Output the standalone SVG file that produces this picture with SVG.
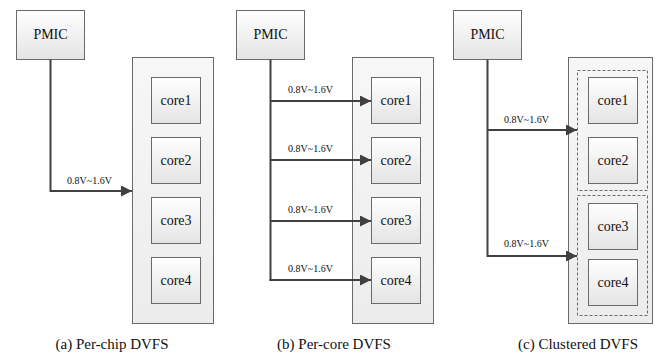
<svg xmlns="http://www.w3.org/2000/svg" width="657" height="354" viewBox="0 0 657 354" font-family="'Liberation Serif', 'DejaVu Serif', 'Times New Roman', serif">
  <defs>
    <linearGradient id="boxFill" x1="0" y1="0" x2="0" y2="1">
      <stop offset="0" stop-color="#ffffff"/>
      <stop offset="1" stop-color="#e4e4e4"/>
    </linearGradient>
    <linearGradient id="chipFill" x1="0" y1="0" x2="0" y2="1">
      <stop offset="0" stop-color="#f7f7f7"/>
      <stop offset="1" stop-color="#ececec"/>
    </linearGradient>
    <marker id="arrow" viewBox="0 0 10 10" refX="10" refY="5" markerWidth="5.5" markerHeight="5.5" markerUnits="strokeWidth" orient="auto">
      <path d="M0,0 L10,5 L0,10 Z" fill="#404040"/>
    </marker>
  </defs>
  <style>
    .box { fill: url(#boxFill); stroke: #6a6a6a; stroke-width: 1; }
    .chip { fill: url(#chipFill); stroke: #6a6a6a; stroke-width: 1; }
    .cluster { fill: none; stroke: #6a6a6a; stroke-width: 1; stroke-dasharray: 3 2; }
    .wire { fill: none; stroke: #404040; stroke-width: 2; }
    .arr { marker-end: url(#arrow); }
    text { font-family: "Liberation Serif", "DejaVu Serif", "Times New Roman", serif; fill: #111111; }
    .name { font-size: 14px; text-anchor: middle; }
    .volt { font-size: 10px; }
    .cap { font-size: 15px; text-anchor: middle; }
  </style>

  <!-- (a) Per-chip DVFS -->
  <g id="a-pmic"><rect class="box" x="16.5" y="10.5" width="68" height="49"/><text class="name" x="50.5" y="39">PMIC</text></g>
  <g id="a-chip"><rect class="chip" x="132.5" y="57.5" width="81" height="266"/></g>
  <g id="a-core1"><rect class="box" x="151.5" y="77.5" width="49" height="46"/><text class="name" x="176" y="105">core1</text></g>
  <g id="a-core2"><rect class="box" x="151.5" y="137.5" width="49" height="46"/><text class="name" x="176" y="165">core2</text></g>
  <g id="a-core3"><rect class="box" x="151.5" y="197.5" width="49" height="46"/><text class="name" x="176" y="225">core3</text></g>
  <g id="a-core4"><rect class="box" x="151.5" y="257.5" width="49" height="46"/><text class="name" x="176" y="285">core4</text></g>

  <!-- (b) Per-core DVFS -->
  <g id="b-pmic"><rect class="box" x="236.5" y="10.5" width="68" height="49"/><text class="name" x="270.5" y="39">PMIC</text></g>
  <g id="b-chip"><rect class="chip" x="352.5" y="57.5" width="81" height="266"/></g>
  <g id="b-core1"><rect class="box" x="371.5" y="77.5" width="49" height="46"/><text class="name" x="396" y="105">core1</text></g>
  <g id="b-core2"><rect class="box" x="371.5" y="137.5" width="49" height="46"/><text class="name" x="396" y="165">core2</text></g>
  <g id="b-core3"><rect class="box" x="371.5" y="197.5" width="49" height="46"/><text class="name" x="396" y="225">core3</text></g>
  <g id="b-core4"><rect class="box" x="371.5" y="257.5" width="49" height="46"/><text class="name" x="396" y="285">core4</text></g>

  <!-- (c) Clustered DVFS -->
  <g id="c-pmic"><rect class="box" x="453.5" y="10.5" width="68" height="49"/><text class="name" x="487.5" y="39">PMIC</text></g>
  <g id="c-chip"><rect class="chip" x="568.5" y="57.5" width="84" height="266"/></g>
  <g id="c-cluster1"><rect class="cluster" x="577.5" y="70.5" width="70" height="120"/></g>
  <g id="c-cluster2"><rect class="cluster" x="577.5" y="195.5" width="70" height="120"/></g>
  <g id="c-core1"><rect class="box" x="588.5" y="77.5" width="49" height="46"/><text class="name" x="613" y="105">core1</text></g>
  <g id="c-core2"><rect class="box" x="588.5" y="137.5" width="49" height="46"/><text class="name" x="613" y="165">core2</text></g>
  <g id="c-core3"><rect class="box" x="588.5" y="203.5" width="49" height="46"/><text class="name" x="613" y="231">core3</text></g>
  <g id="c-core4"><rect class="box" x="588.5" y="259.5" width="49" height="46"/><text class="name" x="613" y="287">core4</text></g>

  <!-- supply rails -->
  <g id="connectors">
    <path class="wire arr" d="M50.5,59.5 V191 H132"/>
    <path class="wire" d="M270.5,59.5 V281"/>
    <path class="wire arr" d="M270.5,101 H371"/>
    <path class="wire arr" d="M270.5,160 H371"/>
    <path class="wire arr" d="M270.5,221 H371"/>
    <path class="wire arr" d="M269.5,280 H371"/>
    <path class="wire arr" d="M487.5,59.5 V256 H577"/>
    <path class="wire arr" d="M487.5,130 H577"/>
  </g>

  <!-- rail voltage ranges -->
  <g id="labels">
    <text class="volt" x="67" y="184">0.8V~1.6V</text>
    <text class="volt" x="288" y="93">0.8V~1.6V</text>
    <text class="volt" x="288" y="152">0.8V~1.6V</text>
    <text class="volt" x="288" y="213">0.8V~1.6V</text>
    <text class="volt" x="288" y="272">0.8V~1.6V</text>
    <text class="volt" x="504" y="123">0.8V~1.6V</text>
    <text class="volt" x="504" y="247">0.8V~1.6V</text>
  </g>

  <!-- panel captions -->
  <g id="captions">
    <text class="cap" x="112" y="349">(a) Per-chip DVFS</text>
    <text class="cap" x="334" y="349">(b) Per-core DVFS</text>
    <text class="cap" x="578" y="349">(c) Clustered DVFS</text>
  </g>
</svg>
